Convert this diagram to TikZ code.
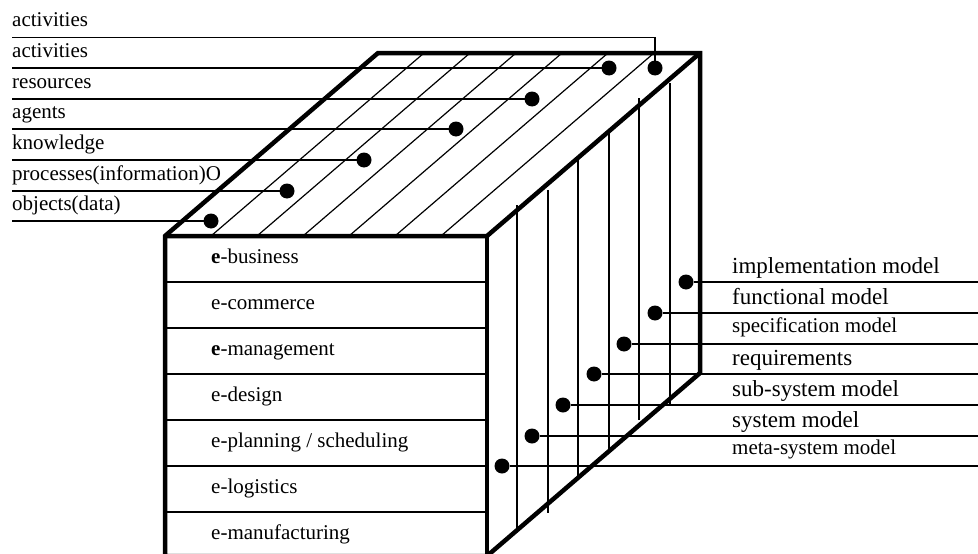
\documentclass[tikz,border=0pt]{standalone}
\usepackage{fontspec}
\setmainfont{Liberation Serif}
\begin{document}
\begin{tikzpicture}[x=1pt,y=-1pt,
    thinline/.style={line width=1.2pt},
    edge/.style={line width=4.5pt,line join=miter},
    dot/.style={circle,fill,inner sep=0pt,minimum size=15pt},
    lbl/.style={anchor=base west,inner sep=0pt,font=\fontsize{21}{24}\selectfont},
    biglbl/.style={lbl,font=\fontsize{23}{26}\selectfont}]
  \clip (0,0) rectangle (978,554);
  % top face strips
  \foreach \k in {1,...,6}
    \draw[thinline] ({165+46*\k},236) -- ({378+46*\k},53);
  % front face rows
  \foreach \k in {1,...,6}
    \draw[thinline] (165,{236+46*\k}) -- (487,{236+46*\k});
  \foreach \txt [count=\i from 0] in {{\textbf{e}-business},{e-commerce},
      {\textbf{e}-management},{e-design},{e-planning / scheduling},
      {e-logistics},{e-manufacturing}}
    \node[lbl] (row\i) at (211,{263+46*\i}) {\txt};
  % right face strips
  \foreach \x/\ya/\yb in {517/205/528,548/190/513,578/160/477,
      609/133/450,639/98/420,670/83/405}
    \draw[thinline] (\x,\ya) -- (\x,\yb);
  % cube outline
  \draw[edge] (165,556) -- (165,236) -- (378,53) -- (700,53) -- (700,373)
    -- (487,556) -- cycle;
  \draw[edge] (165,236) -- (487,236) -- (700,53);
  \draw[edge] (487,236) -- (487,556);
  % top face dots and labels
  \foreach \name/\x/\y/\txt in {obj/211/221/objects(data),
      proc/287/191/processes(information)O,know/364/160/knowledge,
      agt/456/129/agents,res/532/99/resources,act/609/68/activities}{
    \coordinate (\name-end) at (12,\y);
    \node[lbl] (\name-lbl) at (12,{\y-11}) {\txt};
    \draw[thinline] (\name-end) -- (\x,\y);
    \node[dot] (\name) at (\x,\y) {};
  }
  \coordinate (acttop-end) at (12,37.7);
  \node[lbl] (acttop-lbl) at (12,26.7) {activities};
  \node[dot] (acttop) at (655,68) {};
  \draw[thinline] (acttop.center) |- (acttop-end);
  % right face dots and labels
  \foreach \name/\x/\y/\sty/\dy/\txt in {meta/502/466/lbl/12/meta-system model,
      sys/532/436/biglbl/9/system model,sub/563/405/biglbl/9/sub-system model,
      req/594/374/biglbl/9/requirements,spec/624/344/lbl/12/specification model,
      func/655/313/biglbl/9/functional model,impl/686/282/biglbl/9/implementation model}{
    \node[dot] (\name) at (\x,\y) {};
    \coordinate (\name-end) at (978,\y);
    \node[\sty] (\name-lbl) at (732,{\y-\dy}) {\txt};
    \draw[thinline] (\name) -- (\name-end);
  }
\end{tikzpicture}
\end{document}
